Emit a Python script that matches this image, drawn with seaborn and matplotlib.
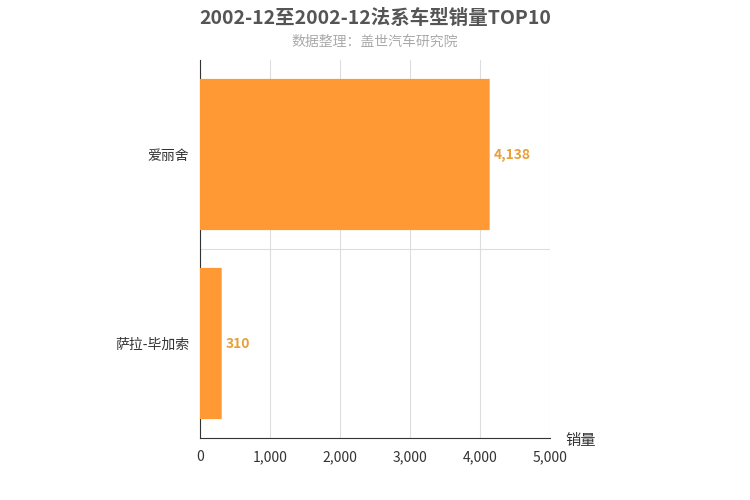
import matplotlib
matplotlib.use("Agg")
import matplotlib.pyplot as plt
import seaborn as sns
import pandas as pd
from matplotlib.patches import FancyBboxPatch

models = ["爱丽舍", "萨拉-毕加索"]
sales = [4138, 310]
xticks = [0, 1000, 2000, 3000, 4000, 5000]

sns.set_style("white")
plt.rcParams['font.family'] = ['Noto Sans CJK SC', 'DejaVu Sans']

fig = plt.figure(figsize=(7.5, 5), dpi=100)
ax = fig.add_axes([200/750, 1-438/500, 350/750, 378/500])
df = pd.DataFrame({"model": models, "sales": sales})
sns.barplot(data=df, y="model", x="sales", color="#FF9933", width=0.8, ax=ax, zorder=3)

# replace bars by rounded bars
for p in list(ax.patches):
    x, y, w, h = p.get_x(), p.get_y(), p.get_width(), p.get_height()
    p.remove()
    fb = FancyBboxPatch((x, y), w, h, boxstyle="round,pad=0,rounding_size=0.1",
                        mutation_aspect=1/ (5000/ (378/350) / 2 ) * 1, fc="#FF9933", ec="none", zorder=3)
    ax.add_patch(fb)

ax.set_xlim(0, 5000)
ax.set_ylim(1.5, -0.5)
ax.set_xticks(xticks)
ax.set_xticklabels([f"{v:,}" for v in xticks], fontsize=10, color="#333")
ax.grid(axis="x", color="#dddddd", lw=0.8, zorder=0)
ax.axhline(0.5, color="#dddddd", lw=0.8, zorder=0)
ax.set_yticks([0, 1])
ax.set_yticklabels(models, fontsize=10, color="#333")
ax.set_yticks([-0.5, 0.5, 1.5], minor=True)
ax.tick_params(axis="y", which="major", length=0, pad=8)
ax.tick_params(axis="y", which="minor", length=5, color="#333", direction="out")
ax.tick_params(axis="x", length=5, color="#333", direction="out")
for s in ["top", "right"]:
    ax.spines[s].set_visible(False)
ax.spines["left"].set_color("#333")
ax.spines["bottom"].set_color("#333")
ax.set_xlabel("")
ax.set_ylabel("")
for i, v in enumerate(sales):
    ax.text(v + 60, i, f"{v:,}", va="center", ha="left", fontsize=10,
            color="#E8A03A", fontweight="bold")
fig.text(565/750, 1-441/500, "销量", fontsize=11, color="#333", va="center")
fig.text(0.5, 1-18/500, "2002-12至2002-12法系车型销量TOP10", ha="center", va="center",
         fontsize=14, fontweight="bold", color="#555")
fig.text(0.5, 1-42/500, "数据整理：盖世汽车研究院", ha="center", va="center",
         fontsize=10, color="#aaaaaa")
fig.savefig("out.png", dpi=100)
